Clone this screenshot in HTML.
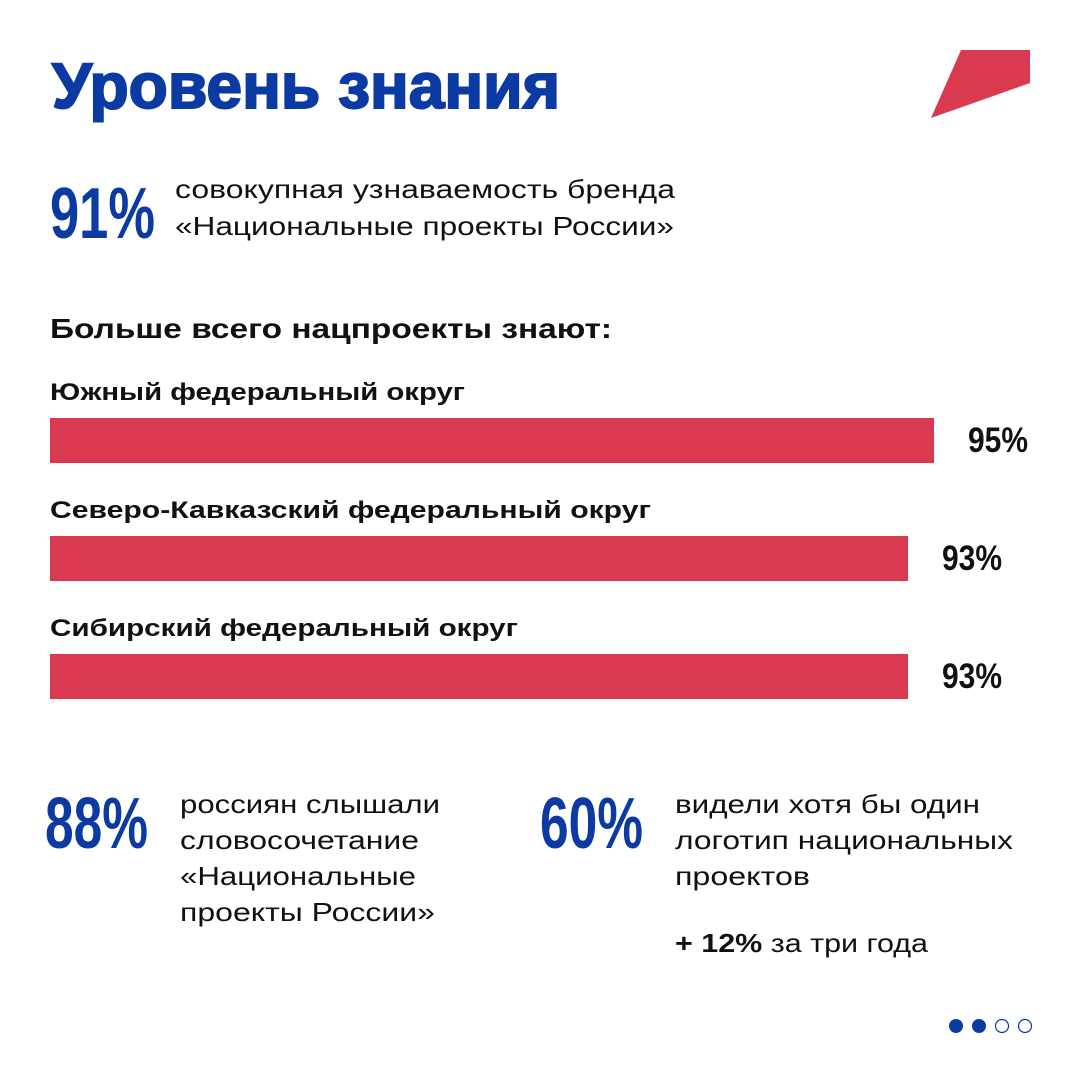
<!DOCTYPE html>
<html><head><meta charset="utf-8"><style>
html,body{margin:0;padding:0;background:#fff}
svg{display:block}
text{font-family:"Liberation Sans",sans-serif}
.n{font-family:"Liberation Sans Narrow","Liberation Sans",sans-serif;font-weight:bold}
</style></head><body>
<svg width="1080" height="1080" viewBox="0 0 1080 1080">
<rect width="1080" height="1080" fill="#fff"/>
<text x="52" y="108" font-size="64" font-weight="bold" fill="#0b3aa3" stroke="#0b3aa3" stroke-width="2" textLength="508" lengthAdjust="spacingAndGlyphs">Уровень знания</text>
<polygon points="961,50 1030,50 1030,83 931,118" fill="#d93a50"/>
<text class="n" x="50" y="238" font-size="72" fill="#0b3aa3" textLength="105" lengthAdjust="spacingAndGlyphs">91%</text>
<text x="175" y="198" font-size="26" fill="#111" textLength="500" lengthAdjust="spacingAndGlyphs">совокупная узнаваемость бренда</text>
<text x="175" y="235" font-size="26" fill="#111" textLength="499" lengthAdjust="spacingAndGlyphs">«Национальные проекты России»</text>
<text x="50" y="338" font-size="28" font-weight="bold" fill="#111" textLength="562" lengthAdjust="spacingAndGlyphs">Больше всего нацпроекты знают:</text>
<g id="chart"></g>
<text class="n" x="45" y="848" font-size="72" fill="#0b3aa3" textLength="103" lengthAdjust="spacingAndGlyphs">88%</text>
<g font-size="26" fill="#111">
<text x="180" y="813" textLength="260" lengthAdjust="spacingAndGlyphs">россиян слышали</text>
<text x="180" y="849" textLength="239" lengthAdjust="spacingAndGlyphs">словосочетание</text>
<text x="180" y="885" textLength="236" lengthAdjust="spacingAndGlyphs">«Национальные</text>
<text x="180" y="921" textLength="255" lengthAdjust="spacingAndGlyphs">проекты России»</text>
</g>
<text class="n" x="540" y="848" font-size="72" fill="#0b3aa3" textLength="103" lengthAdjust="spacingAndGlyphs">60%</text>
<g font-size="26" fill="#111">
<text x="675" y="813" textLength="305" lengthAdjust="spacingAndGlyphs">видели хотя бы один</text>
<text x="675" y="849" textLength="338" lengthAdjust="spacingAndGlyphs">логотип национальных</text>
<text x="675" y="885" textLength="135" lengthAdjust="spacingAndGlyphs">проектов</text>
<text x="675" y="952" textLength="253" lengthAdjust="spacingAndGlyphs"><tspan font-weight="bold">+ 12%</tspan> за три года</text>
</g>
<g>
<circle cx="956" cy="1026" r="7" fill="#0b3aa3"/>
<circle cx="979" cy="1026" r="7" fill="#0b3aa3"/>
<circle cx="1002" cy="1026" r="6.5" fill="none" stroke="#0b3aa3" stroke-width="1.2"/>
<circle cx="1025" cy="1026" r="6.5" fill="none" stroke="#0b3aa3" stroke-width="1.2"/>
</g>
</svg>
<script>
const categories = ["Южный федеральный округ","Северо-Кавказский федеральный округ","Сибирский федеральный округ"];
const values = [95, 93, 93];
const valueLabels = ["95%","93%","93%"];
const NS="http://www.w3.org/2000/svg";
const g=document.getElementById('chart');
const x0=50, domMin=27, domMax=95, range=884;
function xScale(v){return x0+(v-domMin)/(domMax-domMin)*range;}
function yRow(i){return 418+i*118;}
const labelWidths=[415,601,468];
categories.forEach((c,i)=>{
  const y=yRow(i);
  const t=document.createElementNS(NS,'text');
  
  
  t.setAttribute('x',50);t.setAttribute('y',y-18);
  t.setAttribute('font-size','24');t.setAttribute('font-weight','bold');t.setAttribute('fill','#111');
  t.setAttribute('textLength',labelWidths[i]);t.setAttribute('lengthAdjust','spacingAndGlyphs');
  t.textContent=c;g.appendChild(t);
  const r=document.createElementNS(NS,'rect');
  
  
  const xe=xScale(values[i]);
  r.setAttribute('x',x0);r.setAttribute('y',y);r.setAttribute('width',xe-x0);r.setAttribute('height',45);
  r.setAttribute('fill','#d93a50');g.appendChild(r);
  const v=document.createElementNS(NS,'text');
  
  
  v.setAttribute('class','n');
  v.setAttribute('x',xe+34);v.setAttribute('y',y+34);
  v.setAttribute('font-size','35');v.setAttribute('fill','#111');
  v.setAttribute('textLength','60');v.setAttribute('lengthAdjust','spacingAndGlyphs');
  v.textContent=valueLabels[i];g.appendChild(v);
});
</script>
</body></html>
